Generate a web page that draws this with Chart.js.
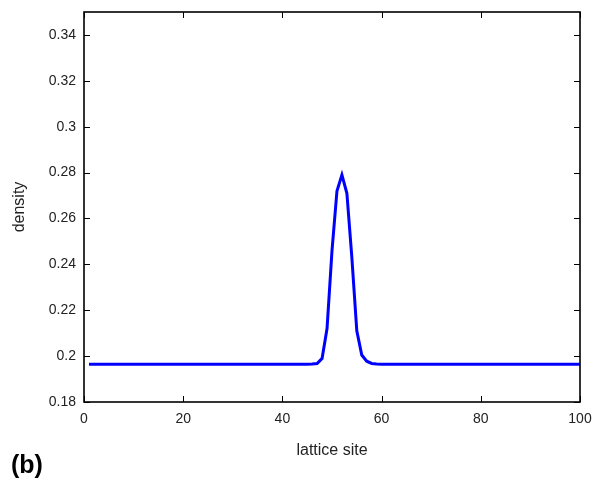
<!DOCTYPE html>
<html>
<head>
<meta charset="utf-8">
<script src="https://cdn.jsdelivr.net/npm/chart.js@4.4.0/dist/chart.umd.min.js"></script>
<style>
  html, body { margin: 0; padding: 0; background: #fff; }
  #wrap { width: 603px; height: 490px; position: relative; }
</style>
</head>
<body>
<div id="wrap"><canvas id="densityChart"></canvas></div>
<script>
// lattice sites 1..100
const sites = [
  1, 2, 3, 4, 5, 6, 7, 8, 9, 10, 11, 12, 13, 14, 15, 16, 17, 18, 19, 20,
  21, 22, 23, 24, 25, 26, 27, 28, 29, 30, 31, 32, 33, 34, 35, 36, 37, 38, 39, 40,
  41, 42, 43, 44, 45, 46, 47, 48, 49, 50, 51, 52, 53, 54, 55, 56, 57, 58, 59, 60,
  61, 62, 63, 64, 65, 66, 67, 68, 69, 70, 71, 72, 73, 74, 75, 76, 77, 78, 79, 80,
  81, 82, 83, 84, 85, 86, 87, 88, 89, 90, 91, 92, 93, 94, 95, 96, 97, 98, 99, 100
];

// density
const density = [
  0.1965, 0.1965, 0.1965, 0.1965, 0.1965, 0.1965, 0.1965, 0.1965, 0.1965, 0.1965,
  0.1965, 0.1965, 0.1965, 0.1965, 0.1965, 0.1965, 0.1965, 0.1965, 0.1965, 0.1965,
  0.1965, 0.1965, 0.1965, 0.1965, 0.1965, 0.1965, 0.1965, 0.1965, 0.1965, 0.1965,
  0.1965, 0.1965, 0.1965, 0.1965, 0.1965, 0.1965, 0.1965, 0.1965, 0.1965, 0.1965,
  0.1965, 0.1965, 0.1965, 0.1965, 0.1965, 0.1966, 0.1968, 0.199, 0.212, 0.246,
  0.272, 0.279, 0.271, 0.243, 0.211, 0.2005, 0.1978, 0.1968, 0.1966, 0.1965,
  0.1965, 0.1965, 0.1965, 0.1965, 0.1965, 0.1965, 0.1965, 0.1965, 0.1965, 0.1965,
  0.1965, 0.1965, 0.1965, 0.1965, 0.1965, 0.1965, 0.1965, 0.1965, 0.1965, 0.1965,
  0.1965, 0.1965, 0.1965, 0.1965, 0.1965, 0.1965, 0.1965, 0.1965, 0.1965, 0.1965,
  0.1965, 0.1965, 0.1965, 0.1965, 0.1965, 0.1965, 0.1965, 0.1965, 0.1965, 0.1965
];

const xTicks = [0, 20, 40, 60, 80, 100];
const yTicks = [0.18, 0.2, 0.22, 0.24, 0.26, 0.28, 0.3, 0.32, 0.34];

const FONT = "'Liberation Sans', Arial, Helvetica, sans-serif";

// gnuplot-like frame with inward ticks on all four sides, plus the "(b)" tag
const framePlugin = {
  id: "frame",
  afterDraw(chart) {
    const { ctx, chartArea: { left, right, top, bottom }, scales: { x, y } } = chart;
    ctx.save();
    ctx.strokeStyle = "#000";
    ctx.lineWidth = 1;
    const len = 6;
    ctx.beginPath();
    x.ticks.forEach(t => {
      const px = Math.round(x.getPixelForValue(t.value)) + 0.5;
      ctx.moveTo(px, bottom); ctx.lineTo(px, bottom - len);
      ctx.moveTo(px, top); ctx.lineTo(px, top + len);
    });
    y.ticks.forEach(t => {
      const py = Math.round(y.getPixelForValue(t.value)) + 0.5;
      ctx.moveTo(left, py); ctx.lineTo(left + len, py);
      ctx.moveTo(right, py); ctx.lineTo(right - len, py);
    });
    ctx.stroke();
    ctx.lineWidth = 1.6;
    ctx.strokeRect(left, top, right - left, bottom - top);

    ctx.fillStyle = "#000";
    ctx.font = "bold 25px " + FONT;
    ctx.textBaseline = "alphabetic";
    ctx.fillText("(b)", 11, 473);
    ctx.restore();
  }
};

const canvas = document.getElementById("densityChart");

new Chart(canvas.getContext("2d"), {
  type: "line",
  data: {
    datasets: [{
      label: "density",
      data: sites.map((s, i) => ({ x: s, y: density[i] })),
      borderColor: "#0000ff",
      borderWidth: 3,
      pointRadius: 0,
      tension: 0,
      fill: false
    }]
  },
  options: {
    responsive: true,
    maintainAspectRatio: false,
    animation: false,
    layout: { padding: { left: 0, right: 23, top: 12, bottom: 0 } },
    plugins: {
      legend: { display: false },
      tooltip: { enabled: false }
    },
    scales: {
      x: {
        type: "linear",
        min: 0,
        max: 100,
        afterBuildTicks: scale => { scale.ticks = xTicks.map(v => ({ value: v })); },
        afterFit: scale => {
          scale.height = 88;
          scale.paddingLeft = 0;
          scale.paddingRight = 0;
        },
        grid: { display: false, drawTicks: false },
        border: { display: false },
        ticks: {
          padding: 9,
          color: "#222",
          font: { family: FONT, size: 14 },
          maxRotation: 0
        },
        title: {
          display: true,
          text: "lattice site",
          color: "#222",
          font: { family: FONT, size: 16 },
          padding: { top: 8, bottom: 30 }
        }
      },
      y: {
        min: 0.18,
        max: 0.35,
        afterBuildTicks: scale => { scale.ticks = yTicks.map(v => ({ value: v })); },
        afterFit: scale => {
          scale.width = 84;
          scale.paddingTop = 0;
          scale.paddingBottom = 0;
        },
        grid: { display: false, drawTicks: false },
        border: { display: false },
        ticks: {
          padding: 8,
          color: "#222",
          font: { family: FONT, size: 14 },
          callback: v => String(v)
        },
        title: {
          display: true,
          text: "density",
          color: "#222",
          font: { family: FONT, size: 16 },
          padding: { top: 10, bottom: 0 }
        }
      }
    }
  },
  plugins: [framePlugin]
});
</script>
</body>
</html>
